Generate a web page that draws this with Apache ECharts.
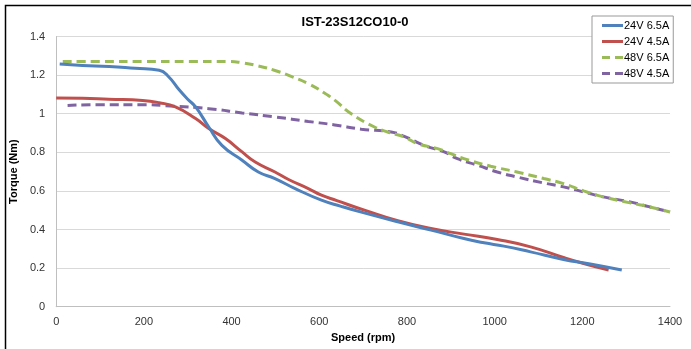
<!DOCTYPE html>
<html><head><meta charset="utf-8">
<script src="https://cdn.jsdelivr.net/npm/echarts@6/dist/echarts.min.js"></script>
<style>html,body{margin:0;padding:0;background:#fff}#c{width:691px;height:349px}</style>
</head><body><div id="c"></div>
<script>
const titleText = "IST-23S12CO10-0";
const seriesNames = ["24V 6.5A", "24V 4.5A", "48V 6.5A", "48V 4.5A"];
const xTicks = [0, 200, 400, 600, 800, 1000, 1200, 1400];
const yTicks = [0, 0.2, 0.4, 0.6, 0.8, 1, 1.2, 1.4];

const blue24v65 = [[8,1.257],[60,1.25],[121,1.245],[180,1.235],[235,1.225],[257,1.19],[280,1.125],[300,1.075],[318,1.035],[348,0.931],[378,0.836],[424,0.759],[461,0.698],[499,0.664],[545,0.612],[605,0.552],[650,0.52],[696,0.49],[779,0.44],[855,0.397],[930,0.353],[976,0.331],[1021,0.314],[1082,0.284],[1157,0.245],[1218,0.221],[1290,0.19]];
const red24v45 = [[0,1.081],[60,1.08],[120,1.075],[197,1.069],[235,1.057],[272,1.035],[318,0.975],[348,0.923],[386,0.871],[424,0.802],[454,0.75],[499,0.698],[530,0.659],[575,0.612],[605,0.578],[640,0.55],[703,0.5],[779,0.445],[855,0.405],[930,0.376],[1006,0.348],[1082,0.31],[1157,0.255],[1203,0.224],[1260,0.19]];
const green48v65 = [[15,1.271],[100,1.271],[200,1.271],[300,1.271],[393,1.271],[424,1.264],[460,1.248],[499,1.224],[540,1.19],[575,1.156],[610,1.11],[636,1.069],[673,1.0],[726,0.931],[756,0.905],[794,0.879],[824,0.845],[870,0.819],[900,0.793],[930,0.767],[991,0.728],[1051,0.698],[1112,0.664],[1157,0.638],[1203,0.6],[1248,0.569],[1309,0.538],[1354,0.517],[1400,0.491]];
const purple48v45 = [[26,1.043],[100,1.047],[197,1.047],[260,1.04],[348,1.026],[424,1.004],[500,0.983],[575,0.96],[635,0.942],[696,0.92],[764,0.905],[794,0.883],[839,0.836],[885,0.802],[915,0.767],[961,0.733],[1006,0.698],[1051,0.672],[1112,0.641],[1157,0.621],[1203,0.595],[1248,0.569],[1309,0.543],[1354,0.517],[1400,0.491]];

const colors = ["#4F81BD", "#C0504D", "#9BBB59", "#8064A2"];
const dataSets = [blue24v65, red24v45, green48v65, purple48v45];
const dashes = ["solid", "solid", [9, 5], [9, 5]];
const dashIcon = "path://M0,0h8v3h-8z M13,0h8v3h-8z";
const icons = ["rect", "rect", dashIcon, dashIcon];
const font = "'Liberation Sans', Arial, sans-serif";

const chart = echarts.init(document.getElementById('c'), null, {renderer: 'canvas'});
chart.setOption({
  animation: false,
  backgroundColor: '#fff',
  title: {text: titleText, left: 350, textAlign: 'center', top: 11,
    textStyle: {fontFamily: font, fontSize: 13, fontWeight: 'bold', color: '#000'}},
  graphic: [{type: 'rect', shape: {x: 5.5, y: 5.5, width: 720, height: 400},
    style: {fill: 'none', stroke: '#000', lineWidth: 1.5}, silent: true}],
  legend: {
    orient: 'vertical', left: 592, top: 16,
    padding: [3, 4, 3, 10], itemGap: 3, itemWidth: 21, itemHeight: 3,
    backgroundColor: '#fff', borderColor: '#999', borderWidth: 1, borderRadius: 0,
    textStyle: {fontFamily: font, fontSize: 11, color: '#000', padding: [0, 0, 0, -4], lineHeight: 13},
    data: seriesNames.map((n, i) => ({name: n, icon: icons[i], itemStyle: {color: colors[i]}}))
  },
  grid: {left: 53.3, right: 21, top: 36.5, bottom: 42.3, containLabel: false},
  xAxis: {
    type: 'value', min: xTicks[0], max: xTicks[xTicks.length - 1], interval: 200,
    name: 'Speed (rpm)', nameLocation: 'middle', nameGap: 26,
    nameTextStyle: {fontFamily: font, fontSize: 11, fontWeight: 'bold', color: '#000'},
    axisLine: {show: true, lineStyle: {color: '#bfbfbf', width: 1}},
    axisTick: {show: false},
    axisLabel: {fontFamily: font, fontSize: 11, color: '#333', margin: 10,
      formatter: v => String(v)},
    splitLine: {show: false}
  },
  yAxis: {
    type: 'value', min: yTicks[0], max: yTicks[yTicks.length - 1], interval: 0.2,
    name: 'Torque (Nm)', nameLocation: 'middle', nameGap: 33,
    nameTextStyle: {fontFamily: font, fontSize: 11, fontWeight: 'bold', color: '#000'},
    axisLine: {show: true, lineStyle: {color: '#bfbfbf', width: 1}},
    axisTick: {show: false},
    axisLabel: {fontFamily: font, fontSize: 11, color: '#333', margin: 11,
      formatter: v => String(Math.round(v * 10) / 10)},
    splitLine: {show: true, lineStyle: {color: '#d9d9d9', width: 1}}
  },
  series: seriesNames.map((n, i) => ({
    name: n, type: 'line', data: dataSets[i], showSymbol: false, symbol: 'none',
    smooth: 0.5,
    color: colors[i],
    lineStyle: {color: colors[i], width: 3, type: dashes[i], cap: 'butt'},
    z: 10 - i
  }))
});
</script></body></html>
